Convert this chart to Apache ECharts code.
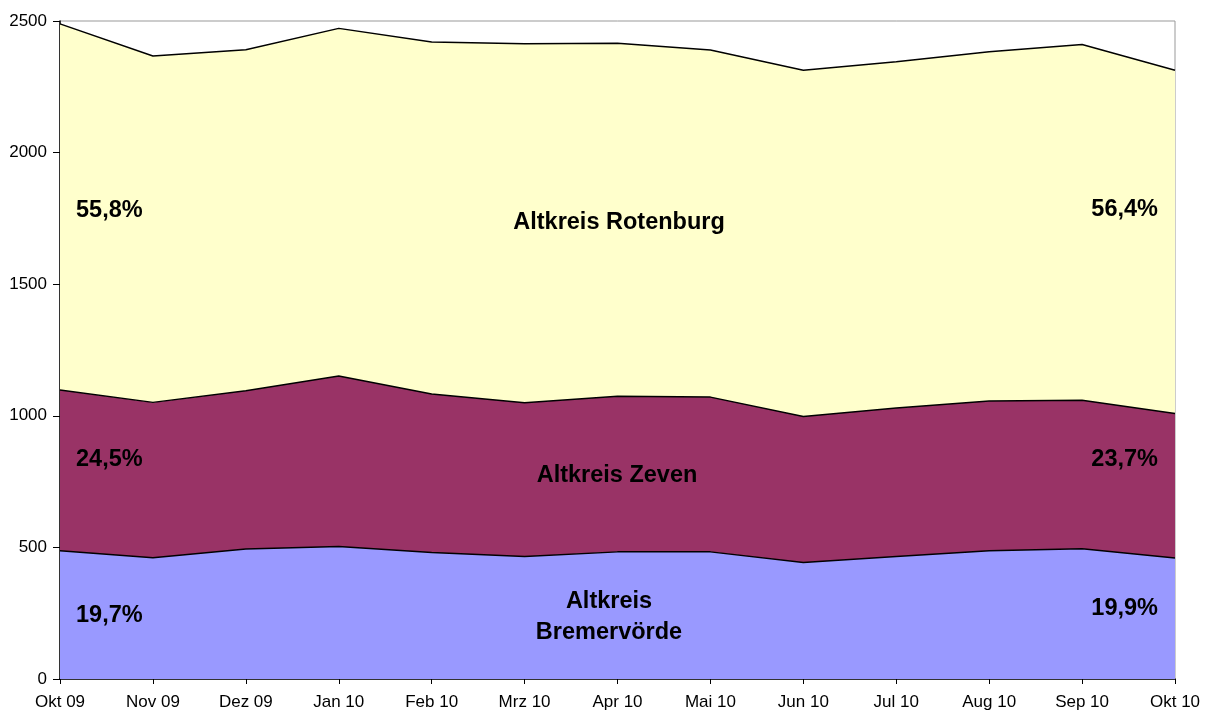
<!DOCTYPE html>
<html>
<head>
<meta charset="utf-8">
<script src="https://cdn.jsdelivr.net/npm/echarts@6/dist/echarts.min.js"></script>
<style>
    html, body { margin: 0; padding: 0; background: #fff; }
    #chart { width: 1210px; height: 713px; }
</style>
</head>
<body>
<div id="chart"></div>
<script>
const months = ['Okt 09', 'Nov 09', 'Dez 09', 'Jan 10', 'Feb 10', 'Mrz 10', 'Apr 10',
    'Mai 10', 'Jun 10', 'Jul 10', 'Aug 10', 'Sep 10', 'Okt 10'];
const bremervoerde = [487, 461, 494, 503, 481, 465, 483, 483, 443, 465, 487, 495, 460];
const zeven = [611, 590, 601, 648, 602, 585, 591, 588, 554, 565, 569, 564, 549];
const rotenburg = [1391, 1316, 1296, 1321, 1337, 1364, 1341, 1319, 1316, 1315, 1327, 1352, 1304];

const font = '"Liberation Sans", Arial, sans-serif';
const labelFont = 'bold 23.5px ' + font;

function area(name, data, color) {
    return {
        name: name,
        type: 'line',
        stack: 'total',
        data: data,
        showSymbol: false,
        lineStyle: { color: '#000', width: 1.5 },
        areaStyle: { color: color, opacity: 1 },
        itemStyle: { color: color }
    };
}

function label(text, x, y, align) {
    return {
        type: 'text',
        x: x,
        y: y,
        z: 100,
        style: {
            text: text,
            font: labelFont,
            fill: '#000',
            align: align,
            verticalAlign: 'middle',
            lineHeight: 31
        }
    };
}

const chartDom = document.getElementById('chart');
const myChart = echarts.init(chartDom);
let option;

option = {
    animation: false,
    grid: {
        left: 60,
        top: 21,
        right: 35,
        bottom: 34,
        show: true,
        borderColor: '#999',
        borderWidth: 1
    },
    xAxis: {
        type: 'category',
        data: months,
        boundaryGap: false,
        axisLine: { lineStyle: { color: '#000', width: 1.5 } },
        axisTick: { show: true, length: 5, lineStyle: { color: '#000' } },
        axisLabel: { color: '#000', fontFamily: font, fontSize: 17, margin: 15, interval: 0 },
        splitLine: { show: false }
    },
    yAxis: {
        type: 'value',
        min: 0,
        max: 2500,
        interval: 500,
        axisLine: { show: true, lineStyle: { color: '#000', width: 1.5 } },
        axisTick: { show: true, length: 7, lineStyle: { color: '#000' } },
        axisLabel: {
            color: '#000', fontFamily: font, fontSize: 17, margin: 13,
            formatter: function (v) { return String(v); }
        },
        splitLine: { show: false }
    },
    series: [
        area('Altkreis Bremervörde', bremervoerde, '#9999FF'),
        area('Altkreis Zeven', zeven, '#993366'),
        area('Altkreis Rotenburg', rotenburg, '#FFFFCC')
    ],
    graphic: [
        label('55,8%', 76, 211, 'left'),
        label('Altkreis Rotenburg', 619, 223, 'center'),
        label('56,4%', 1158, 210, 'right'),
        label('24,5%', 76, 460, 'left'),
        label('Altkreis Zeven', 617, 476, 'center'),
        label('23,7%', 1158, 460, 'right'),
        label('19,7%', 76, 616, 'left'),
        label('Altkreis\nBremervörde', 609, 617, 'center'),
        label('19,9%', 1158, 609, 'right')
    ]
};

option && myChart.setOption(option);
window.addEventListener('resize', function () {
    if (myChart != null) {
        myChart.resize();
    }
});
</script>
</body>
</html>
